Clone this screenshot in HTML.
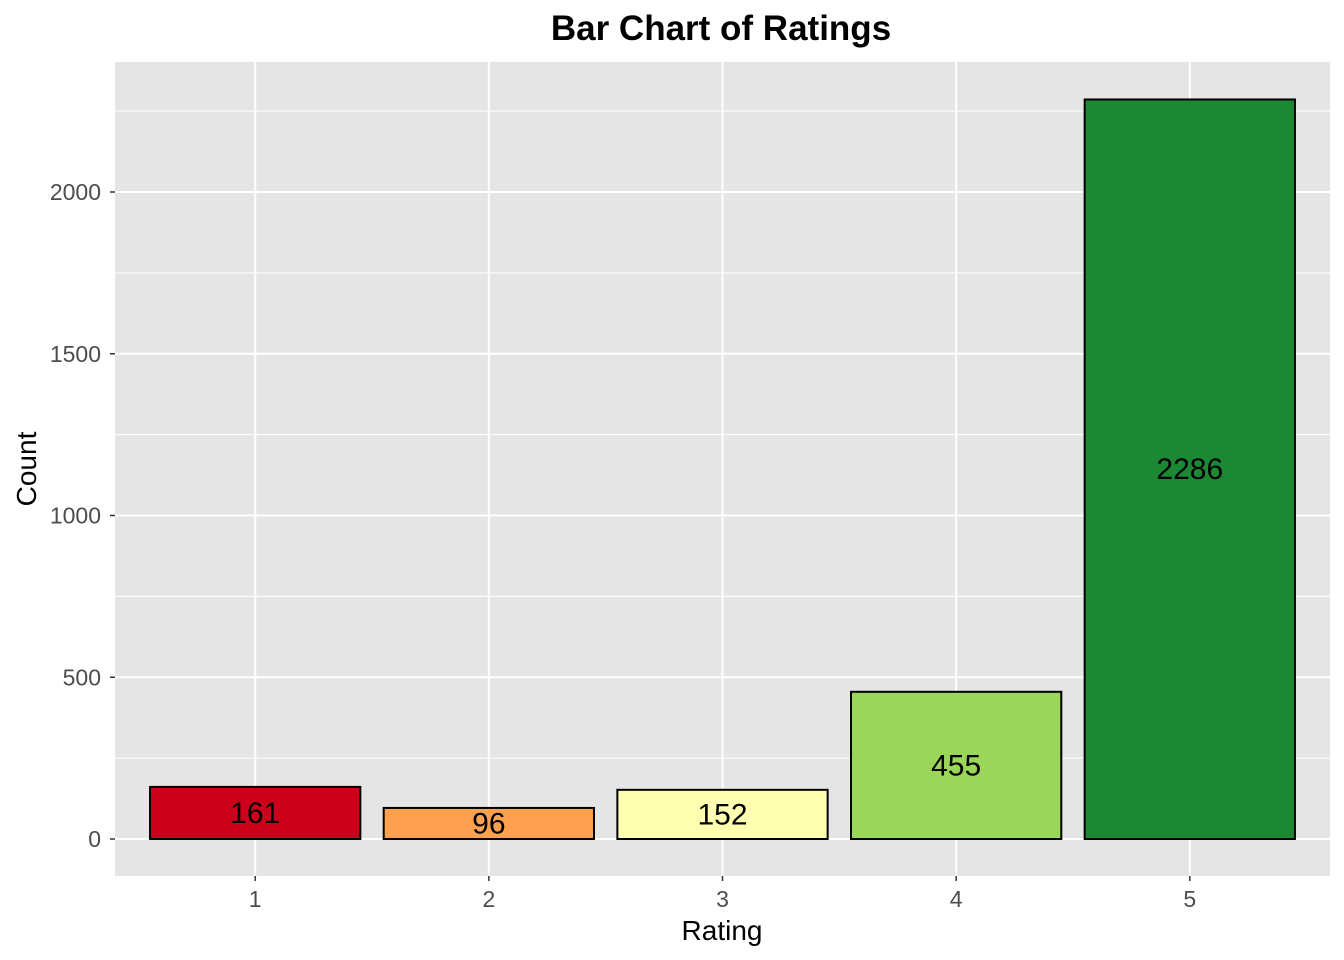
<!DOCTYPE html>
<html><head><meta charset="utf-8">
<style>
html,body{margin:0;padding:0;background:#fff;}
svg{display:block;font-family:"Liberation Sans",Arial,sans-serif;}
</style></head>
<body>
<svg id="chart" width="1344" height="960" viewBox="0 0 1344 960" xmlns="http://www.w3.org/2000/svg">
<text x="721" y="40" text-anchor="middle" font-size="35" font-weight="bold" fill="#000">Bar Chart of Ratings</text>
<rect x="115" y="62" width="1215" height="814" fill="#e5e5e5"/>
<g id="grid"></g>
<g id="bars"></g>
<g id="axes"></g>
<text x="722" y="940" text-anchor="middle" font-size="28" fill="#000">Rating</text>
<text transform="translate(36,469) rotate(-90)" text-anchor="middle" font-size="28" fill="#000">Count</text>
</svg>
<script>
const categories = ["1","2","3","4","5"];
const counts = [161, 96, 152, 455, 2286];
const colors = ["#CC001A","#FDA04F","#FFFFB2","#9AD65A","#1C8833"];
const yTicks = [0, 500, 1000, 1500, 2000];
const yMinor = [250, 750, 1250, 1750, 2250];

const NS = "http://www.w3.org/2000/svg";
const panelL = 115, panelR = 1330, panelT = 62, panelB = 876;
const y0px = 839, pxPerUnit = 647/2000;
function yScale(v){ return y0px - v*pxPerUnit; }
const step = (panelR-panelL)/(categories.length - 1 + 1.2);
function xScale(i){ return panelL + step*0.6 + i*step; }
const barW = step*0.9;

function mk(tag, attrs, parent){
  const e = document.createElementNS(NS, tag);
  for (const k in attrs) e.setAttribute(k, attrs[k]);
  parent.appendChild(e); return e;
}
const grid = document.getElementById("grid");
const bars = document.getElementById("bars");
const axes = document.getElementById("axes");

yMinor.forEach(v=>{
  const l = mk("line",{x1:panelL,x2:panelR,y1:yScale(v),y2:yScale(v),stroke:"#fff","stroke-width":1},grid);
  
  
});
yTicks.forEach(v=>{
  const l = mk("line",{x1:panelL,x2:panelR,y1:yScale(v),y2:yScale(v),stroke:"#fff","stroke-width":2},grid);
  
  
  const t = mk("line",{x1:panelL-5,x2:panelL,y1:yScale(v),y2:yScale(v),stroke:"#333","stroke-width":1.5},axes);
  
  
  const tx = mk("text",{x:panelL-14,y:yScale(v)+8,"text-anchor":"end","font-size":"23",fill:"#4d4d4d"},axes);
  tx.textContent = v;
  
  
});
categories.forEach((c,i)=>{
  const x = xScale(i);
  const l = mk("line",{x1:x,x2:x,y1:panelT,y2:panelB,stroke:"#fff","stroke-width":2},grid);
  
  
  const t = mk("line",{x1:x,x2:x,y1:panelB,y2:panelB+5,stroke:"#333","stroke-width":1.5},axes);
  
  
  const tx = mk("text",{x:x,y:panelB+31,"text-anchor":"middle","font-size":"23",fill:"#4d4d4d"},axes);
  tx.textContent = c;
  
  

  const v = counts[i];
  const r = mk("rect",{x:x-barW/2,y:yScale(v),width:barW,height:yScale(0)-yScale(v),fill:colors[i],stroke:"#000","stroke-width":2},bars);
  
  
  const lb = mk("text",{x:x,y:yScale(v/2)+10,"text-anchor":"middle","font-size":"30",fill:"#000"},bars);
  lb.textContent = v;
  
  
});
</script>
</body></html>
